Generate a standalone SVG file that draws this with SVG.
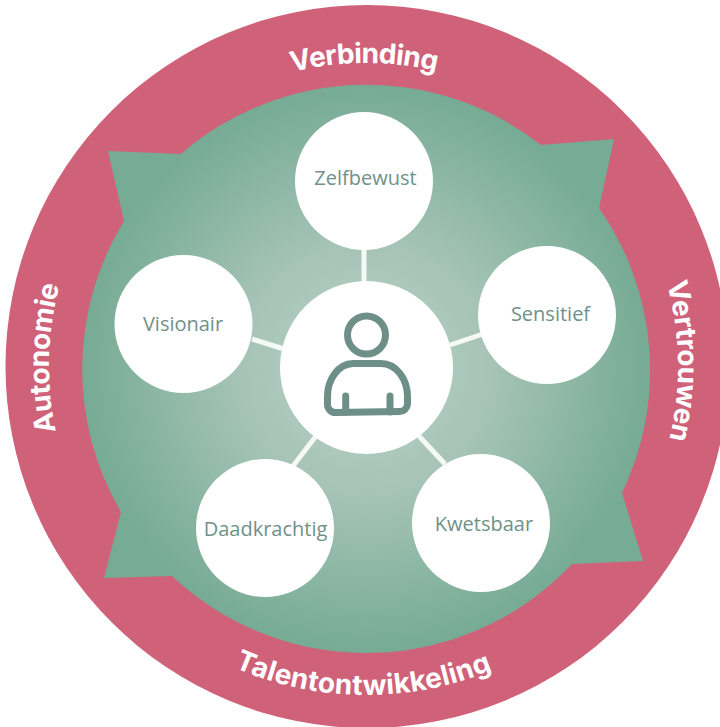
<svg xmlns="http://www.w3.org/2000/svg" width="720" height="727" viewBox="0 0 720 727">
<style>
.n{fill:#fff}
.lbl{font-family:"Open Sans","Noto Sans",sans-serif;font-size:20px;fill:#6f918a;text-anchor:middle}
.ring{font-family:"Inter","Liberation Sans",sans-serif;font-weight:700;font-size:28px;fill:#fff;text-anchor:middle}
.c{stroke:#f4f8f6;stroke-width:5;fill:none}
.i{fill:none;stroke:#6d8f87;stroke-width:7;stroke-linecap:round;stroke-linejoin:round}
</style>
<defs>
<radialGradient id="g" gradientUnits="userSpaceOnUse" cx="366" cy="369" r="283">
<stop offset="0" stop-color="#bdd1c8"/><stop offset="0.45" stop-color="#a5c3b6"/><stop offset="1" stop-color="#76ab95"/>
</radialGradient>
<path id="pV" d="M63 366A303 303 0 0 1 669 366" transform="rotate(-0.400 366 366)"/>
<path id="pR" d="M366 54A312 312 0 0 1 366 678" transform="rotate(-0.900 366 366)"/>
<path id="pL" d="M366 683A317 317 0 0 1 366 49" transform="rotate(1.400 366 366)"/>
<path id="pB" d="M37 366A329 329 0 0 0 695 366" transform="rotate(0.500 366 366)"/>
</defs>
<g id="ring">
<circle cx="367" cy="366.500" r="361.500" fill="#cf6179"/>
<path id="blob" fill="url(#g)" d="M108 151L181 154A283 283 0 0 1 541 145L614 139L599 208A283 283 0 0 1 622 493L643 561L572 564A283 283 0 0 1 172 576L104 578L121 512A283 283 0 0 1 124 221Z"/>
<text class="ring" letter-spacing="-0.600"><textPath href="#pV" startOffset="50%">Verbinding</textPath></text>
<text class="ring" letter-spacing="-0.300"><textPath href="#pR" startOffset="50%">Vertrouwen</textPath></text>
<text class="ring" letter-spacing="-0.300"><textPath href="#pL" startOffset="50%">Autonomie</textPath></text>
<text class="ring" letter-spacing="0.300"><textPath href="#pB" startOffset="50%">Talentontwikkeling</textPath></text>
</g>
<g id="connectors">
<line class="c" x1="364" y1="245" x2="364" y2="285"/>
<line class="c" x1="450" y1="345" x2="483" y2="334"/>
<line class="c" x1="418" y1="435" x2="445" y2="464"/>
<line class="c" x1="316" y1="436" x2="293" y2="466"/>
<line class="c" x1="284" y1="349" x2="252" y2="339"/>
</g>
<g id="center"><circle class="n" cx="366.500" cy="367.500" r="86.500"/>
<circle class="i" cx="366.500" cy="335" r="19"/>
<path class="i" d="M353 363.500H381A26.500 33 0 0 1 407.500 397V404A8 8 0 0 1 399.500 411.500L335.500 412.500A8 8 0 0 1 327.500 404V397A26 33 0 0 1 353 363.500Z"/>
<path class="i" d="M345.700 396V412M390 396V412"/>
</g>
<g id="zelfbewust"><circle class="n" cx="364" cy="181" r="69"/><text class="lbl" x="365.500" y="185">Zelfbewust</text></g>
<g id="sensitief"><circle class="n" cx="547" cy="315" r="69"/><text class="lbl" x="550.500" y="321">Sensitief</text></g>
<g id="kwetsbaar"><circle class="n" cx="481" cy="523" r="69"/><text class="lbl" x="484" y="531">Kwetsbaar</text></g>
<g id="daadkrachtig"><circle class="n" cx="265" cy="528" r="69"/><text class="lbl" x="265.500" y="536">Daadkrachtig</text></g>
<g id="visionair"><circle class="n" cx="183.500" cy="324" r="69"/><text class="lbl" x="183" y="331">Visionair</text></g>
</svg>
